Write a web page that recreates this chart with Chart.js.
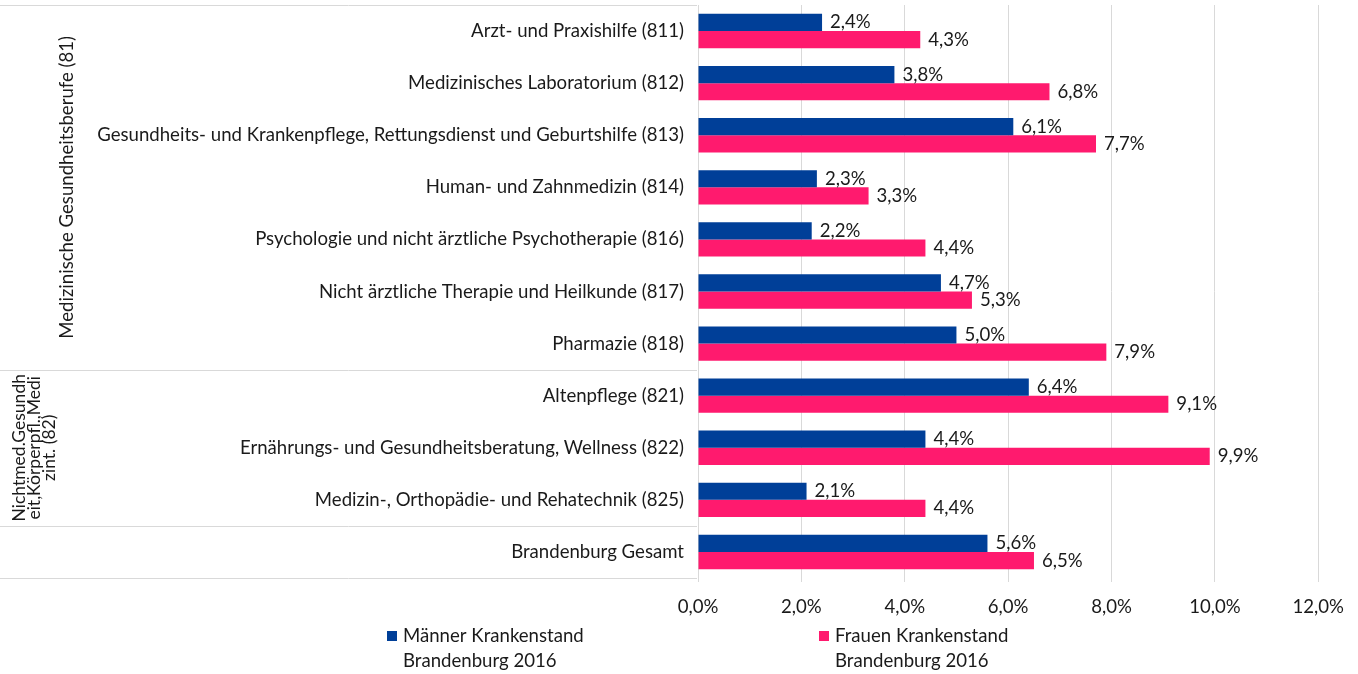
<!DOCTYPE html>
<html>
<head>
<meta charset="utf-8">
<script src="https://cdn.jsdelivr.net/npm/chart.js@4"></script>
<style>
  html, body { margin: 0; padding: 0; background: #fff; }
  #chart { display: block; }
</style>
</head>
<body>
<canvas id="chart" width="1358" height="674"></canvas>
<script>
const categories = [
  'Arzt- und Praxishilfe (811)',
  'Medizinisches Laboratorium (812)',
  'Gesundheits- und Krankenpflege, Rettungsdienst und Geburtshilfe (813)',
  'Human- und Zahnmedizin (814)',
  'Psychologie und nicht ärztliche Psychotherapie (816)',
  'Nicht ärztliche Therapie und Heilkunde (817)',
  'Pharmazie (818)',
  'Altenpflege (821)',
  'Ernährungs- und Gesundheitsberatung, Wellness (822)',
  'Medizin-, Orthopädie- und Rehatechnik (825)',
  'Brandenburg Gesamt'
];
const maenner = [2.4, 3.8, 6.1, 2.3, 2.2, 4.7, 5.0, 6.4, 4.4, 2.1, 5.6];
const frauen = [4.3, 6.8, 7.7, 3.3, 4.4, 5.3, 7.9, 9.1, 9.9, 4.4, 6.5];
const seriesNames = [
  ['Männer Krankenstand', 'Brandenburg 2016'],
  ['Frauen Krankenstand', 'Brandenburg 2016']
];
// Obergruppen der Kategorien (letzter Index jeder Gruppe)
const groupNames = [
  ['Medizinische Gesundheitsberufe (81)'],
  ['Nichtmed.Gesundh', 'eit,Körperpfl.,Medi', 'zint. (82)']
];
const groupEnds = [6, 9];
const xTicks = [0, 2, 4, 6, 8, 10, 12];

const FONT = 'Lato, sans-serif';
const FONT_SIZE = 18.6;
const TEXT = '#1a1a1a';
const LINE = '#d9d9d9';
const colors = ['#003f98', '#ff1a6e'];

const fmt = v => v.toFixed(1).replace('.', ',') + '%';

// Werte rechts neben den Balken
const valueLabels = {
  id: 'valueLabels',
  afterDatasetsDraw(chart) {
    const ctx = chart.ctx;
    ctx.save();
    ctx.font = FONT_SIZE + 'px ' + FONT;
    ctx.fillStyle = TEXT;
    ctx.textAlign = 'left';
    ctx.textBaseline = 'middle';
    chart.data.datasets.forEach((ds, di) => {
      chart.getDatasetMeta(di).data.forEach((bar, i) => {
        ctx.fillText(fmt(ds.data[i]), bar.x + 8, bar.y);
      });
    });
    ctx.restore();
  }
};

// Gruppenbeschriftung links, Trennlinien und Legende
const groupAxis = {
  id: 'groupAxis',
  afterDraw(chart) {
    const ctx = chart.ctx;
    const y = chart.scales.y;
    const area = chart.chartArea;
    const half = (y.getPixelForTick(1) - y.getPixelForTick(0)) / 2;
    const right = area.left - 1;
    ctx.save();
    ctx.strokeStyle = LINE;
    ctx.lineWidth = 1;
    const bounds = [area.top];
    groupEnds.forEach(e => bounds.push(y.getPixelForTick(e) + half));
    bounds.push(area.bottom);
    bounds.forEach(b => {
      const yy = Math.round(b) + 0.5;
      ctx.beginPath();
      ctx.moveTo(0, yy);
      ctx.lineTo(right, yy);
      ctx.stroke();
    });

    // erste Gruppe einzeilig, zweite umbrochen
    const groupX = [[67], [19, 34, 49]];
    const groupSize = [FONT_SIZE, 17.5];
    ctx.fillStyle = TEXT;
    ctx.textAlign = 'center';
    ctx.textBaseline = 'middle';
    groupNames.forEach((lines, g) => {
      ctx.font = groupSize[g] + 'px ' + FONT;
      const cy = (bounds[g] + bounds[g + 1]) / 2;
      lines.forEach((txt, li) => {
        ctx.save();
        ctx.translate(groupX[g][li], cy);
        ctx.rotate(-Math.PI / 2);
        ctx.fillText(txt, 0, 0);
        ctx.restore();
      });
    });

    const legendX = [387, 819];
    ctx.font = FONT_SIZE + 'px ' + FONT;
    ctx.textAlign = 'left';
    chart.data.datasets.forEach((ds, i) => {
      ctx.fillStyle = ds.backgroundColor;
      ctx.fillRect(legendX[i], 631, 10, 10);
      ctx.fillStyle = TEXT;
      seriesNames[i].forEach((txt, li) => {
        ctx.fillText(txt, legendX[i] + 16, 636 + li * 25);
      });
    });
    ctx.restore();
  }
};

new Chart(document.getElementById('chart').getContext('2d'), {
  type: 'bar',
  data: {
    labels: categories,
    datasets: [
      { label: seriesNames[0].join(' '), data: maenner, backgroundColor: colors[0] },
      { label: seriesNames[1].join(' '), data: frauen, backgroundColor: colors[1] }
    ]
  },
  options: {
    indexAxis: 'y',
    responsive: false,
    animation: false,
    devicePixelRatio: 1,
    layout: { padding: { top: 5, right: 38, left: 0, bottom: 0 } },
    datasets: { bar: { categoryPercentage: 0.66, barPercentage: 1 } },
    plugins: {
      legend: { display: false },
      tooltip: { enabled: false }
    },
    scales: {
      x: {
        min: 0,
        max: 12,
        afterBuildTicks(scale) {
          scale.ticks = xTicks.map(v => ({ value: v }));
        },
        afterFit(scale) { scale.height = 96; },
        grid: { color: LINE, lineWidth: 1, tickLength: 4 },
        border: { display: false },
        ticks: {
          padding: 14,
          color: TEXT,
          font: { family: FONT, size: FONT_SIZE },
          callback: v => fmt(v)
        }
      },
      y: {
        afterFit(scale) {
          scale.width = 698;
          scale.paddingTop = 0;
          scale.paddingBottom = 0;
        },
        grid: { display: false, drawTicks: false },
        border: { display: true, color: LINE, width: 1 },
        ticks: {
          padding: 14,
          color: TEXT,
          font: { family: FONT, size: FONT_SIZE },
          autoSkip: false
        }
      }
    }
  },
  plugins: [valueLabels, groupAxis]
});
</script>
</body>
</html>
